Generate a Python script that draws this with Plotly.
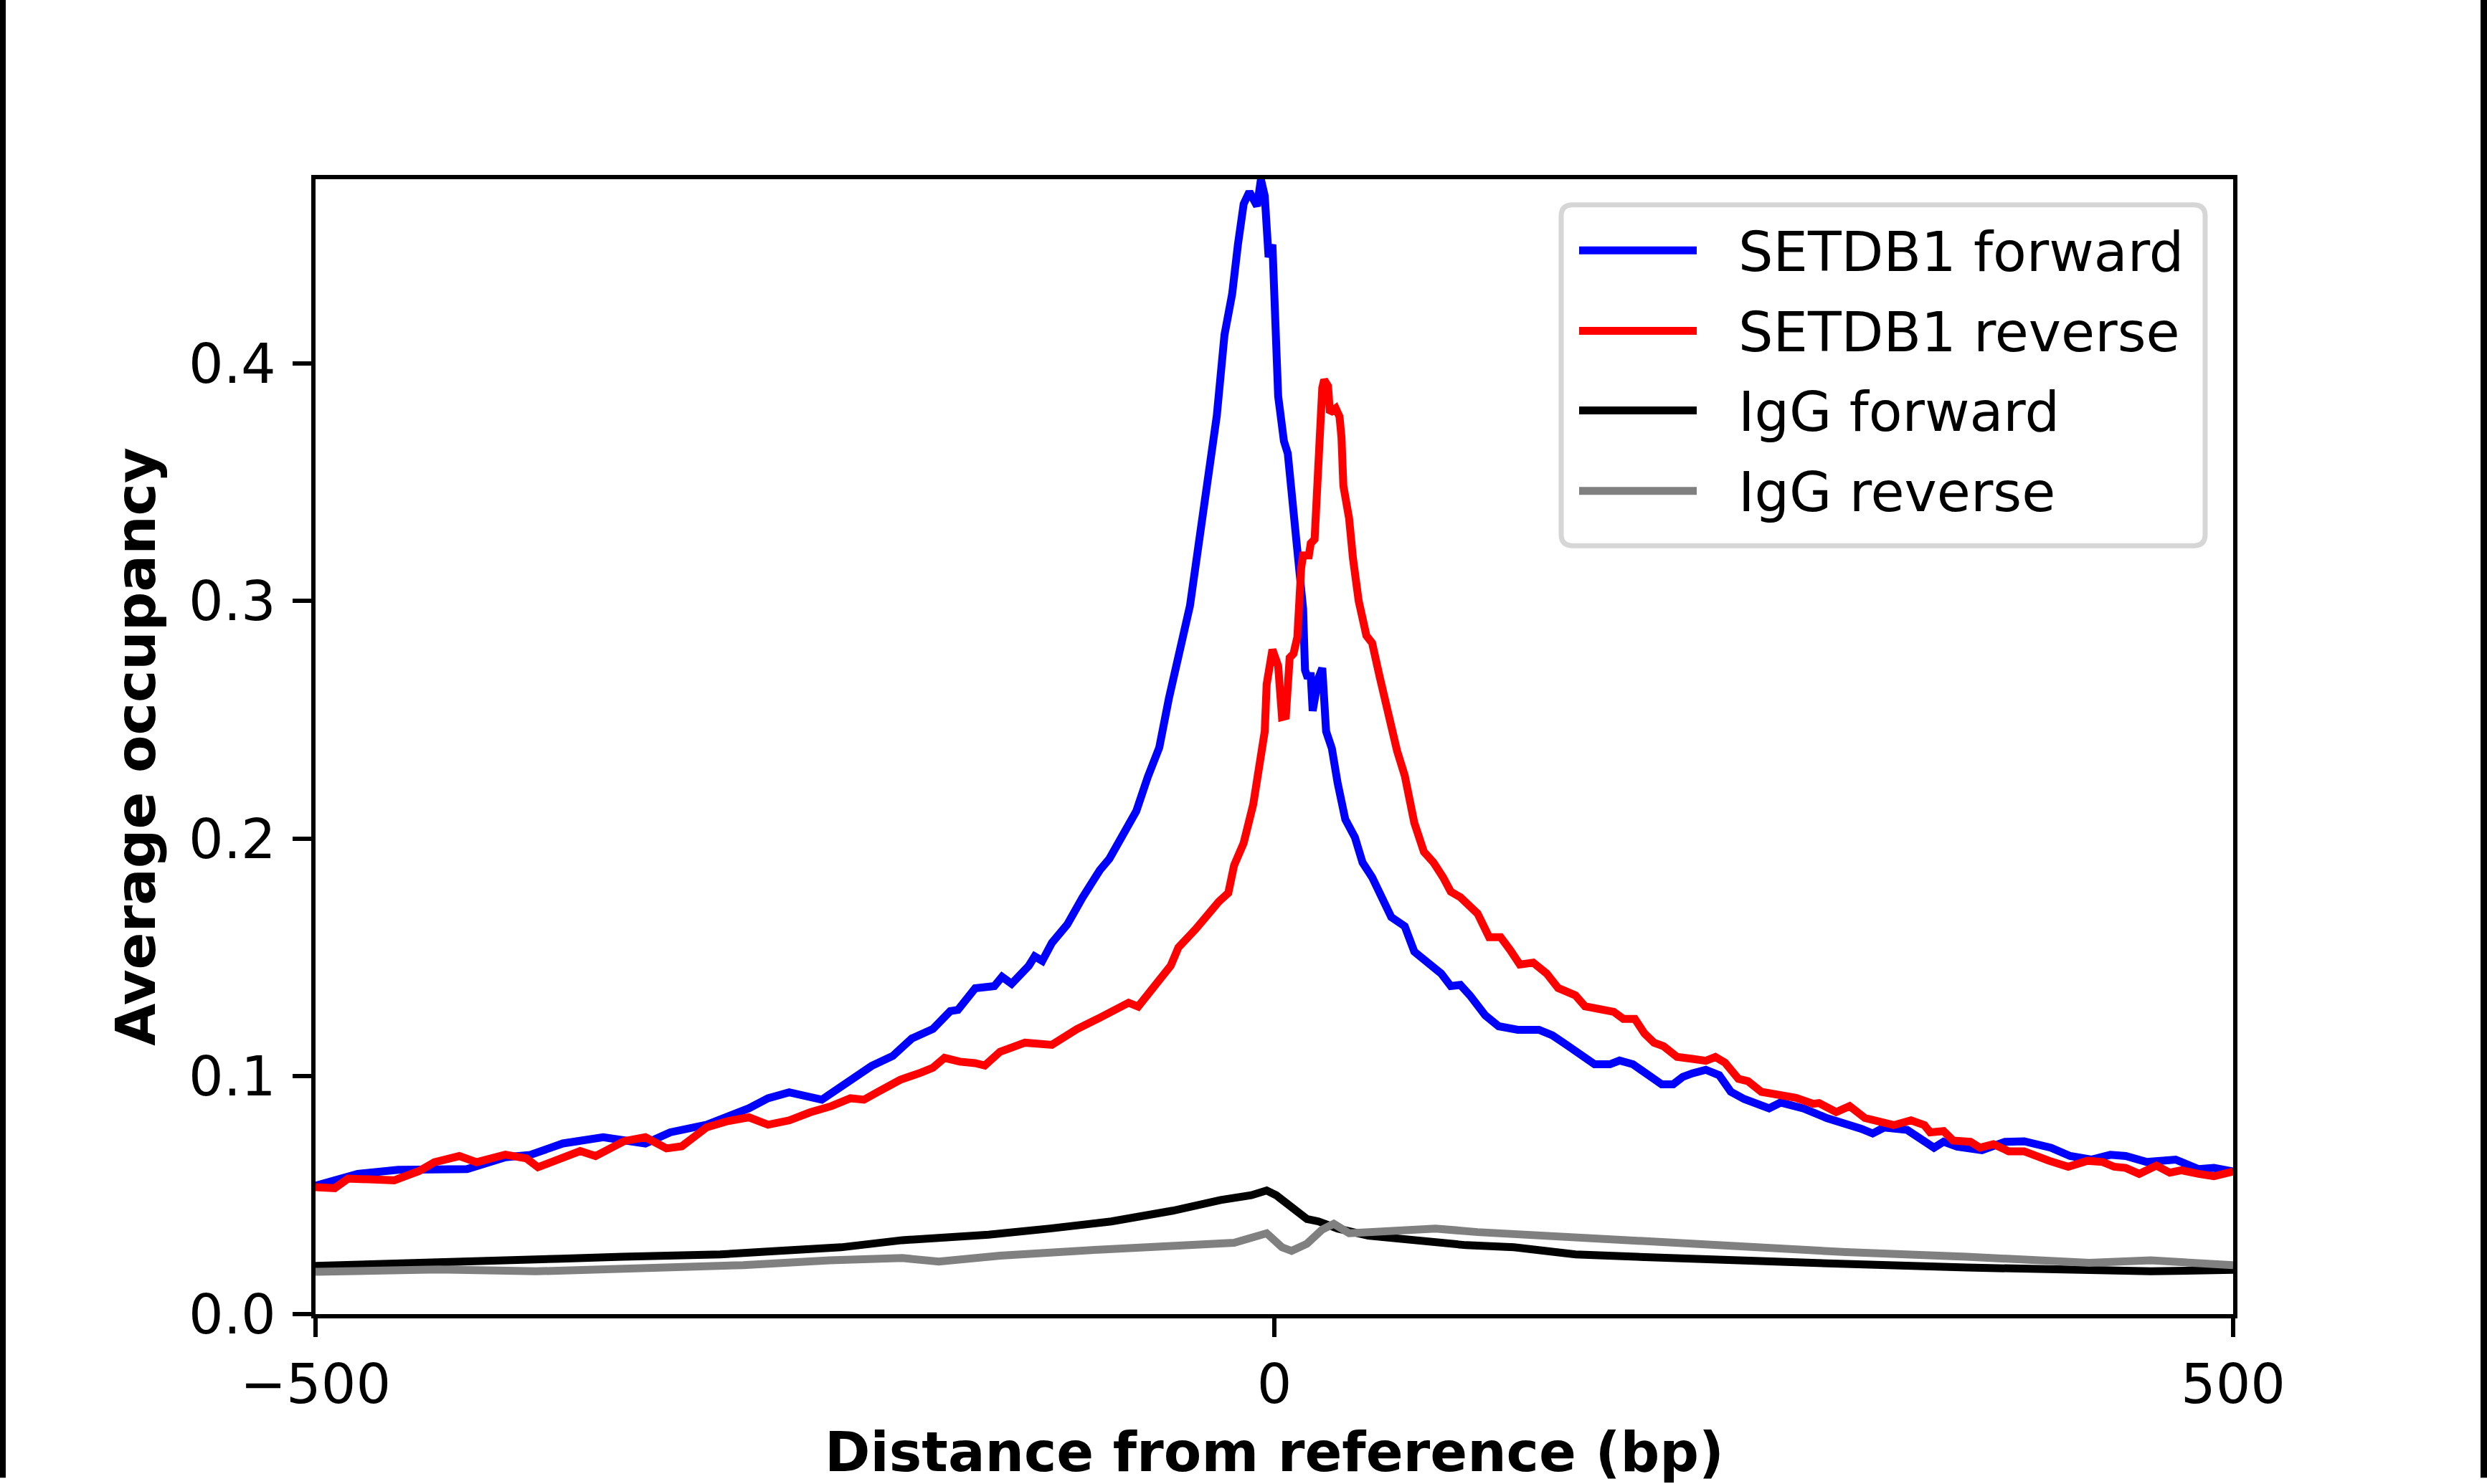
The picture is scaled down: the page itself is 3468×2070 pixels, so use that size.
import plotly.graph_objects as go

# ---------------- data ----------------
fwd_x = [-500, -478, -457, -436, -421, -401, -388, -371, -350, -328, -315, -296, -285, -274,
         -264, -253, -236, -221, -210, -199, -189, -178, -169, -165, -156, -146, -142, -137,
         -128, -125, -121, -116, -108, -100, -91, -86, -78, -72, -66, -60, -55, -51, -44,
         -40, -35, -30, -26, -22, -19, -16, -13, -9, -7, -5, -3, -1, 2, 5, 7, 10, 12, 13,
         15, 16, 17, 19, 20, 23, 25, 27, 30, 33, 36, 37, 42, 46, 51, 56, 61, 68, 73, 80,
         87, 92, 97, 102, 110, 117, 127, 138, 145, 152, 160, 167, 175, 180, 187, 193, 202,
         208, 213, 218, 225, 232, 238, 245, 252, 258, 264, 276, 288, 295, 306, 312, 318,
         330, 335, 344, 349, 356, 369, 381, 391, 405, 415, 426, 436, 444, 455, 470, 482,
         490, 500]
fwd_y = [0.054, 0.059, 0.0607, 0.0608, 0.061, 0.066, 0.067, 0.0718, 0.0744, 0.0718, 0.0765,
         0.0797, 0.0828, 0.0866, 0.0908, 0.0933, 0.0902, 0.098, 0.1044, 0.1086, 0.116, 0.120,
         0.1275, 0.128, 0.1371, 0.138, 0.1419, 0.139, 0.1466, 0.1505, 0.1486, 0.1562, 0.1639,
         0.1753, 0.1868, 0.1916, 0.204, 0.2116, 0.226, 0.2384, 0.259, 0.2728, 0.298, 0.3209,
         0.3518, 0.378, 0.412, 0.4292, 0.4499, 0.4671, 0.4722, 0.4662, 0.4774, 0.4705, 0.4447,
         0.450, 0.3862, 0.3673, 0.3622, 0.3364, 0.3226, 0.314, 0.2968, 0.271, 0.2686, 0.2685,
         0.2538, 0.2676, 0.2718, 0.2452, 0.238, 0.2235, 0.213, 0.2082, 0.2006, 0.190, 0.1838,
         0.1754, 0.167, 0.1632, 0.1525, 0.1479, 0.1433, 0.138, 0.1385, 0.1341, 0.1257, 0.1211,
         0.1196, 0.1196, 0.1173, 0.1135, 0.1089, 0.1051, 0.1051, 0.1067, 0.1051, 0.102, 0.0967,
         0.0967, 0.0998, 0.1013, 0.1028, 0.1005, 0.0936, 0.0905, 0.0883, 0.0866, 0.089, 0.0865,
         0.0825, 0.081, 0.078, 0.076, 0.0785, 0.0775, 0.0745, 0.070, 0.0725, 0.0705, 0.069,
         0.0725, 0.0727, 0.070, 0.0665, 0.065, 0.067, 0.0665, 0.064, 0.065, 0.061, 0.0615,
         0.060]

rev_x = [-500, -490, -483, -468, -459, -446, -438, -425, -416, -401, -390, -384, -371, -362,
         -354, -339, -328, -317, -309, -296, -285, -274, -264, -253, -242, -231, -221, -214,
         -206, -195, -184, -178, -172, -164, -156, -151, -143, -130, -116, -103, -91, -81,
         -76, -71, -61, -54, -50, -41, -29, -24, -21, -16, -11, -8, -6, -5, -4, -1, 2, 4, 6,
         8, 10, 12, 14, 15, 18, 19, 21, 23, 24, 25, 26, 28, 29, 32, 34, 35, 36, 39, 41, 44,
         48, 51, 55, 59, 64, 68, 73, 78, 83, 88, 92, 97, 102, 106, 112, 118, 123, 128, 135,
         142, 148, 157, 162, 168, 177, 182, 188, 193, 198, 203, 210, 218, 225, 230, 235, 242,
         247, 254, 262, 272, 281, 284, 293, 300, 308, 318, 323, 332, 339, 342, 349, 354, 363,
         368, 375, 383, 391, 404, 414, 424, 432, 438, 444, 451, 460, 467, 473, 482, 490, 500]
rev_y = [0.0534, 0.053, 0.057, 0.0566, 0.0563, 0.0602, 0.0639, 0.0665, 0.0639, 0.0671, 0.0655,
         0.0618, 0.066, 0.0686, 0.0665, 0.0728, 0.0744, 0.0697, 0.0706, 0.0786, 0.0812, 0.0828,
         0.0797, 0.0815, 0.0849, 0.0875, 0.0908, 0.0902, 0.0938, 0.0986, 0.1017, 0.1037,
         0.1078, 0.1062, 0.1056, 0.1046, 0.1104, 0.1142, 0.1133, 0.1199, 0.1247, 0.1285,
         0.131, 0.1294, 0.139, 0.1466, 0.1543, 0.162, 0.1735, 0.1772, 0.1888, 0.1982, 0.2145,
         0.2300, 0.2422, 0.2452, 0.265, 0.2796, 0.2727, 0.2512, 0.2516, 0.2762, 0.2779, 0.2848,
         0.314, 0.3192, 0.3192, 0.3243, 0.326, 0.3553, 0.3793, 0.3897, 0.3931, 0.3905, 0.3793,
         0.3811, 0.3776, 0.369, 0.3485, 0.3347, 0.318, 0.300, 0.2855, 0.2824, 0.2679, 0.254,
         0.237, 0.2266, 0.2067, 0.1945, 0.190, 0.1838, 0.1777, 0.1754, 0.1716, 0.1685, 0.1586,
         0.1586, 0.1532, 0.1471, 0.1479, 0.1433, 0.1372, 0.1341, 0.1295, 0.1288, 0.1272,
         0.1242, 0.1242, 0.1181, 0.1142, 0.1127, 0.1082, 0.1074, 0.1066, 0.1082, 0.1058, 0.099,
         0.098, 0.0935, 0.0925, 0.091, 0.0885, 0.0888, 0.085, 0.0875, 0.0825, 0.0805, 0.0795,
         0.0815, 0.0795, 0.0765, 0.077, 0.073, 0.0725, 0.070, 0.0715, 0.0685, 0.0685, 0.0645,
         0.062, 0.0645, 0.064, 0.062, 0.0615, 0.059, 0.0625, 0.0595, 0.0605, 0.059, 0.058,
         0.060]

igg_fwd_x = [-500, -436, -372, -340, -289, -258, -226, -194, -149, -117, -85, -53, -28, -12,
             -4, 1, 10, 17, 23, 33, 49, 74, 100, 125, 157, 189, 234, 298, 361, 425, 457, 500]
igg_fwd_y = [0.0203, 0.0214, 0.0233, 0.0241, 0.0251, 0.0266, 0.0281, 0.0311, 0.0334, 0.036,
             0.039, 0.0435, 0.048, 0.050, 0.052, 0.050, 0.0446, 0.040, 0.039, 0.036, 0.033,
             0.0311, 0.029, 0.0281, 0.0251, 0.0241, 0.0226, 0.0211, 0.0196, 0.0186, 0.018,
             0.0186]

igg_rev_x = [-500, -436, -385, -321, -277, -232, -194, -175, -143, -92, -53, -21, -4, 4, 9,
             17, 25, 31, 39, 55, 84, 106, 138, 170, 234, 298, 361, 425, 457, 500]
igg_rev_y = [0.0178, 0.0188, 0.018, 0.0196, 0.0206, 0.0226, 0.0236, 0.0221, 0.0246, 0.0271,
             0.0286, 0.030, 0.034, 0.0281, 0.0266, 0.0296, 0.0356, 0.038, 0.034, 0.0345, 0.036,
             0.0345, 0.033, 0.0316, 0.0286, 0.0261, 0.0241, 0.0216, 0.0226, 0.0206]

series_names = ["SETDB1 forward", "SETDB1 reverse", "IgG forward", "IgG reverse"]
series_colors = ["#0000ff", "#ff0000", "#000000", "#808080"]

x_tickvals = [-500, 0, 500]
x_ticktext = ["\u2212500", "0", "500"]
y_tickvals = [0.0, 0.1, 0.2, 0.3, 0.4]
y_ticktext = ["0.0", "0.1", "0.2", "0.3", "0.4"]

x_title = "Distance from reference (bp)"
y_title = "Average occupancy"

# ---------------- layout geometry (pixels) ----------------
W, H = 3468, 2070
L, R, T, B = 440, 3114, 250, 1845
FONT = "DejaVu Sans"
FS = 76.5
LW = 11


def px(X):
    return (X - L) / (R - L)


def py(Y):
    return (B - Y) / (B - T)


fig = go.Figure()
xs = [fwd_x, rev_x, igg_fwd_x, igg_rev_x]
ys = [fwd_y, rev_y, igg_fwd_y, igg_rev_y]
for xv, yv, nm, col in zip(xs, ys, series_names, series_colors):
    fig.add_trace(go.Scatter(x=xv, y=yv, mode="lines", name=nm,
                             line=dict(color=col, width=LW), showlegend=False))

axis_common = dict(showline=True, linecolor="black", linewidth=6, mirror=True,
                   ticks="outside", ticklen=26, tickwidth=6, tickcolor="black",
                   showgrid=False, zeroline=False,
                   tickfont=dict(family=FONT, size=FS, color="black"))

fig.update_xaxes(range=[-500, 500], tickvals=x_tickvals, ticktext=x_ticktext,
                 title=dict(text=x_title, standoff=30,
                            font=dict(family=FONT, size=FS, color="black", weight="bold")),
                 **axis_common)
fig.update_yaxes(range=[0, 0.4775], tickvals=y_tickvals, ticktext=y_ticktext,
                 ticklabelstandoff=8,
                 title=dict(text=y_title, standoff=23,
                            font=dict(family=FONT, size=FS, color="black", weight="bold")),
                 **axis_common)

shapes = []
annotations = []

# legend frame (rounded rectangle)
lx0, lx1 = px(2177), px(3075)
ly0, ly1 = py(765), py(286)
rx = 16 / (R - L)
ry = 16 / (B - T)
path = (f"M {lx0 + rx},{ly1} L {lx1 - rx},{ly1} Q {lx1},{ly1} {lx1},{ly1 - ry} "
        f"L {lx1},{ly0 + ry} Q {lx1},{ly0} {lx1 - rx},{ly0} "
        f"L {lx0 + rx},{ly0} Q {lx0},{ly0} {lx0},{ly0 + ry} "
        f"L {lx0},{ly1 - ry} Q {lx0},{ly1} {lx0 + rx},{ly1} Z")
shapes.append(dict(type="path", xref="paper", yref="paper", path=path,
                   line=dict(color="#d6d6d6", width=7), fillcolor="rgba(255,255,255,0.8)",
                   layer="above"))
entry_y = [350, 463, 575, 688]
for nm, col, ey in zip(series_names, series_colors, entry_y):
    shapes.append(dict(type="line", xref="paper", yref="paper",
                       x0=px(2202), x1=px(2366), y0=py(ey), y1=py(ey),
                       line=dict(color=col, width=LW), layer="above"))
    annotations.append(dict(xref="paper", yref="paper", x=px(2422), y=py(ey + 2),
                            text=nm, showarrow=False, xanchor="left", yanchor="middle",
                            font=dict(family=FONT, size=FS, color="black")))

# black frame strips at the left and right edges of the image
shapes.append(dict(type="rect", xref="paper", yref="paper",
                   x0=px(-5), x1=px(8), y0=py(H + 5), y1=py(-5),
                   line=dict(width=0), fillcolor="black", layer="above"))
shapes.append(dict(type="rect", xref="paper", yref="paper",
                   x0=px(3459), x1=px(W + 5), y0=py(H + 5), y1=py(-5),
                   line=dict(width=0), fillcolor="black", layer="above"))

fig.update_layout(width=W, height=H,
                  margin=dict(l=L, r=W - R, t=T, b=H - B, pad=0),
                  paper_bgcolor="white", plot_bgcolor="white",
                  font=dict(family=FONT, size=FS, color="black"),
                  shapes=shapes, annotations=annotations, showlegend=False)

fig.write_html("out.html", config={"displayModeBar": False},
               post_script="document.body.style.margin='0';document.body.style.overflow='hidden';")
